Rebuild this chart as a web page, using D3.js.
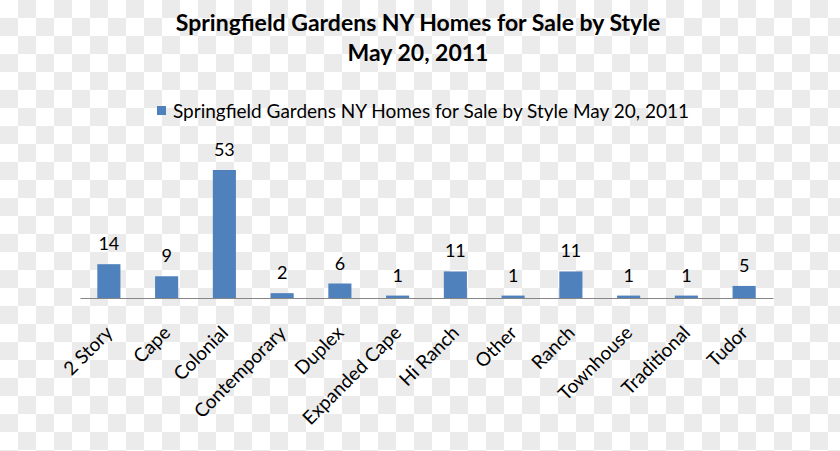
<!DOCTYPE html>
<html>
<head>
<meta charset="utf-8">
<script src="https://cdn.jsdelivr.net/npm/d3@7"></script>
<style>
  body { margin: 0; }
  svg { display: block; font-family: Lato, "Open Sans", sans-serif; }
</style>
</head>
<body>
<script>
var width = 840, height = 451;

// data
var styles = ["2 Story", "Cape", "Colonial", "Contemporary", "Duplex", "Expanded Cape",
              "Hi Ranch", "Other", "Ranch", "Townhouse", "Traditional", "Tudor"];
var counts = [14, 9, 53, 2, 6, 1, 11, 1, 11, 1, 1, 5];
var titleLines = ["Springfield Gardens NY Homes for Sale by Style", "May 20, 2011"];
var seriesName = "Springfield Gardens NY Homes for Sale by Style May 20, 2011";

var svg = d3.select("body").append("svg")
    .attr("width", width)
    .attr("height", height);

// checkered background
var defs = svg.append("defs");
var pat = defs.append("pattern")
    .attr("id", "checks")
    .attr("width", 36).attr("height", 36)
    .attr("patternUnits", "userSpaceOnUse");
pat.append("rect").attr("width", 36).attr("height", 36).attr("fill", "#ffffff");
pat.append("rect").attr("x", 18).attr("y", 0).attr("width", 18).attr("height", 18).attr("fill", "#ebebeb");
pat.append("rect").attr("x", 0).attr("y", 18).attr("width", 18).attr("height", 18).attr("fill", "#ebebeb");
svg.append("rect").attr("width", width).attr("height", height).attr("fill", "url(#checks)");

// title
svg.append("g").selectAll("text")
    .data(titleLines)
    .enter()
    .append("text")
    .attr("x", 418)
    .attr("y", function(d, i) { return 31 + i * 30; })
    .attr("text-anchor", "middle")
    .attr("font-size", 23)
    .attr("font-weight", "bold")
    .attr("fill", "#000")
    .text(function(d) { return d; });

// legend
var legend = svg.append("g").attr("transform", "translate(157,106)");
legend.append("rect").attr("width", 9).attr("height", 9).attr("fill", "#4f81bd");
legend.append("text")
    .attr("x", 16).attr("y", 12)
    .attr("font-size", 19)
    .attr("fill", "#000")
    .text(seriesName);

// scales
var margin = {left: 80, right: 67, baseline: 298};
var xScale = d3.scaleBand().domain(styles).range([margin.left, width - margin.right]).paddingInner(0.6).paddingOuter(0.3);
var yScale = d3.scaleLinear().domain([0, 53]).range([margin.baseline, 170]);

// bars
svg.append("g").selectAll("rect")
    .data(counts)
    .enter()
    .append("rect")
    .attr("x", function(d, i) { return xScale(styles[i]); })
    .attr("y", function(d) { return yScale(d); })
    .attr("width", xScale.bandwidth())
    .attr("height", function(d) { return yScale(0) - yScale(d); })
    .attr("fill", "#4f81bd");

// value labels
svg.append("g").selectAll("text")
    .data(counts)
    .enter()
    .append("text")
    .attr("x", function(d, i) { return xScale(styles[i]) + xScale.bandwidth() / 2; })
    .attr("y", function(d) { return yScale(d) - 14; })
    .attr("text-anchor", "middle")
    .attr("font-size", 18)
    .attr("fill", "#000")
    .text(function(d) { return d; });

// x axis
var xAxis = d3.axisBottom(xScale).tickSize(0).tickPadding(0);
var xAxisGroup = svg.append("g")
    .attr("transform", "translate(0," + margin.baseline + ")")
    .call(xAxis);
xAxisGroup.select(".domain").attr("stroke", "#868686").attr("stroke-width", 1.2);
xAxisGroup.selectAll(".tick text")
    .attr("font-family", "Lato, sans-serif")
    .attr("font-size", 19)
    .attr("fill", "#000")
    .attr("text-anchor", "end")
    .attr("dy", 0)
    .attr("y", 0)
    .attr("transform", "translate(5,36) rotate(-45)");
</script>
</body>
</html>
